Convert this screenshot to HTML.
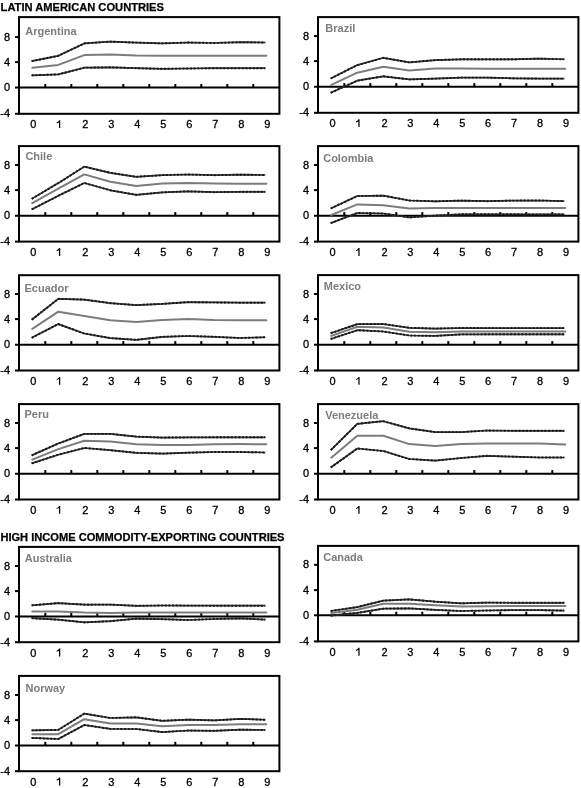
<!DOCTYPE html><html><head><meta charset="utf-8"><style>html,body{margin:0;padding:0;background:#fff;}svg{display:block}#w{width:581px;height:788px;will-change:transform}text{font-family:"Liberation Sans",sans-serif}</style></head><body>
<div id="w"><svg width="581" height="788" viewBox="0 0 581 788">
<rect width="581" height="788" fill="#fff"/>
<text x="0.6" y="10.8" font-weight="bold" font-size="11.15" fill="#000" stroke="#000" stroke-width="0.25">LATIN AMERICAN COUNTRIES</text>
<text x="0.4" y="540.5" font-weight="bold" font-size="11.1" fill="#000" stroke="#000" stroke-width="0.25">HIGH INCOME COMMODITY-EXPORTING COUNTRIES</text>
<g><rect x="19" y="17.1" width="260.40" height="96.70" fill="none" stroke="#000" stroke-width="2"/><line x1="15" y1="87.6" x2="279.4" y2="87.6" stroke="#000" stroke-width="2"/><line x1="15" y1="37.10" x2="19" y2="37.10" stroke="#000" stroke-width="2"/><line x1="15" y1="62.10" x2="19" y2="62.10" stroke="#000" stroke-width="2"/><line x1="15" y1="113.80" x2="19" y2="113.80" stroke="#000" stroke-width="2"/><line x1="45.30" y1="87.6" x2="45.30" y2="84.0" stroke="#000" stroke-width="2"/><line x1="71.30" y1="87.6" x2="71.30" y2="84.0" stroke="#000" stroke-width="2"/><line x1="97.30" y1="87.6" x2="97.30" y2="84.0" stroke="#000" stroke-width="2"/><line x1="123.30" y1="87.6" x2="123.30" y2="84.0" stroke="#000" stroke-width="2"/><line x1="149.30" y1="87.6" x2="149.30" y2="84.0" stroke="#000" stroke-width="2"/><line x1="175.30" y1="87.6" x2="175.30" y2="84.0" stroke="#000" stroke-width="2"/><line x1="201.30" y1="87.6" x2="201.30" y2="84.0" stroke="#000" stroke-width="2"/><line x1="227.30" y1="87.6" x2="227.30" y2="84.0" stroke="#000" stroke-width="2"/><line x1="253.30" y1="87.6" x2="253.30" y2="84.0" stroke="#000" stroke-width="2"/><text x="10.1" y="40.70" text-anchor="end" font-size="11" fill="#000" stroke="#000" stroke-width="0.3">8</text><text x="10.1" y="65.70" text-anchor="end" font-size="11" fill="#000" stroke="#000" stroke-width="0.3">4</text><text x="10.1" y="91.20" text-anchor="end" font-size="11" fill="#000" stroke="#000" stroke-width="0.3">0</text><text x="10.1" y="117.40" text-anchor="end" font-size="11" fill="#000" stroke="#000" stroke-width="0.3">-4</text><text x="33.20" y="128.10" text-anchor="middle" font-size="11" fill="#000" stroke="#000" stroke-width="0.3">0</text><path d="M59.00 120.20h1.25V128.10h-1.25V122.40L56.70 123.40V122.20C57.90 121.80 58.70 121.20 59.00 120.20Z" fill="#000"/><text x="85.20" y="128.10" text-anchor="middle" font-size="11" fill="#000" stroke="#000" stroke-width="0.3">2</text><text x="111.20" y="128.10" text-anchor="middle" font-size="11" fill="#000" stroke="#000" stroke-width="0.3">3</text><text x="137.20" y="128.10" text-anchor="middle" font-size="11" fill="#000" stroke="#000" stroke-width="0.3">4</text><text x="163.20" y="128.10" text-anchor="middle" font-size="11" fill="#000" stroke="#000" stroke-width="0.3">5</text><text x="189.20" y="128.10" text-anchor="middle" font-size="11" fill="#000" stroke="#000" stroke-width="0.3">6</text><text x="215.20" y="128.10" text-anchor="middle" font-size="11" fill="#000" stroke="#000" stroke-width="0.3">7</text><text x="241.20" y="128.10" text-anchor="middle" font-size="11" fill="#000" stroke="#000" stroke-width="0.3">8</text><text x="267.20" y="128.10" text-anchor="middle" font-size="11" fill="#000" stroke="#000" stroke-width="0.3">9</text><text x="25.2" y="34.5" font-weight="bold" font-size="11" fill="#7d7d7d">Argentina</text><polyline points="32.30,67.70 58.30,64.90 84.30,55.10 110.30,54.50 136.30,55.40 162.30,55.70 188.30,55.70 214.30,55.70 240.30,55.70 266.30,55.70" fill="none" stroke="#7c7c7c" stroke-width="2.0" stroke-linejoin="round" stroke-linecap="round"/><polyline points="31.61,61.14 58.30,55.80 84.30,43.40 110.30,41.60 136.30,42.60 162.30,43.40 188.30,42.50 214.30,43.00 240.30,42.20 265.30,42.49" fill="none" stroke="#333" stroke-width="1.7" stroke-linejoin="round"/><polyline points="31.61,61.14 58.30,55.80 84.30,43.40 110.30,41.60 136.30,42.60 162.30,43.40 188.30,42.50 214.30,43.00 240.30,42.20 265.30,42.49" fill="none" stroke="#1a1a1a" stroke-width="1.9" stroke-dasharray="2.2 1.5"/><polyline points="31.60,75.32 58.30,74.40 84.30,67.70 110.30,67.30 136.30,68.20 162.30,68.80 188.30,68.50 214.30,68.20 240.30,68.20 265.30,68.20" fill="none" stroke="#333" stroke-width="1.7" stroke-linejoin="round"/><polyline points="31.60,75.32 58.30,74.40 84.30,67.70 110.30,67.30 136.30,68.20 162.30,68.80 188.30,68.50 214.30,68.20 240.30,68.20 265.30,68.20" fill="none" stroke="#1a1a1a" stroke-width="1.9" stroke-dasharray="2.2 1.5"/></g>
<g><rect x="318" y="17.1" width="260.40" height="95.70" fill="none" stroke="#000" stroke-width="2"/><line x1="314" y1="86.7" x2="578.4" y2="86.7" stroke="#000" stroke-width="2"/><line x1="314" y1="36.10" x2="318" y2="36.10" stroke="#000" stroke-width="2"/><line x1="314" y1="61.10" x2="318" y2="61.10" stroke="#000" stroke-width="2"/><line x1="314" y1="112.80" x2="318" y2="112.80" stroke="#000" stroke-width="2"/><line x1="344.30" y1="86.7" x2="344.30" y2="83.10000000000001" stroke="#000" stroke-width="2"/><line x1="370.30" y1="86.7" x2="370.30" y2="83.10000000000001" stroke="#000" stroke-width="2"/><line x1="396.30" y1="86.7" x2="396.30" y2="83.10000000000001" stroke="#000" stroke-width="2"/><line x1="422.30" y1="86.7" x2="422.30" y2="83.10000000000001" stroke="#000" stroke-width="2"/><line x1="448.30" y1="86.7" x2="448.30" y2="83.10000000000001" stroke="#000" stroke-width="2"/><line x1="474.30" y1="86.7" x2="474.30" y2="83.10000000000001" stroke="#000" stroke-width="2"/><line x1="500.30" y1="86.7" x2="500.30" y2="83.10000000000001" stroke="#000" stroke-width="2"/><line x1="526.30" y1="86.7" x2="526.30" y2="83.10000000000001" stroke="#000" stroke-width="2"/><line x1="552.30" y1="86.7" x2="552.30" y2="83.10000000000001" stroke="#000" stroke-width="2"/><text x="309.1" y="39.70" text-anchor="end" font-size="11" fill="#000" stroke="#000" stroke-width="0.3">8</text><text x="309.1" y="64.70" text-anchor="end" font-size="11" fill="#000" stroke="#000" stroke-width="0.3">4</text><text x="309.1" y="90.30" text-anchor="end" font-size="11" fill="#000" stroke="#000" stroke-width="0.3">0</text><text x="309.1" y="116.40" text-anchor="end" font-size="11" fill="#000" stroke="#000" stroke-width="0.3">-4</text><text x="332.60" y="127.10" text-anchor="middle" font-size="11" fill="#000" stroke="#000" stroke-width="0.3">0</text><path d="M358.33 119.20h1.25V127.10h-1.25V121.40L356.03 122.40V121.20C357.23 120.80 358.03 120.20 358.33 119.20Z" fill="#000"/><text x="384.46" y="127.10" text-anchor="middle" font-size="11" fill="#000" stroke="#000" stroke-width="0.3">2</text><text x="410.39" y="127.10" text-anchor="middle" font-size="11" fill="#000" stroke="#000" stroke-width="0.3">3</text><text x="436.32" y="127.10" text-anchor="middle" font-size="11" fill="#000" stroke="#000" stroke-width="0.3">4</text><text x="462.25" y="127.10" text-anchor="middle" font-size="11" fill="#000" stroke="#000" stroke-width="0.3">5</text><text x="488.18" y="127.10" text-anchor="middle" font-size="11" fill="#000" stroke="#000" stroke-width="0.3">6</text><text x="514.11" y="127.10" text-anchor="middle" font-size="11" fill="#000" stroke="#000" stroke-width="0.3">7</text><text x="540.04" y="127.10" text-anchor="middle" font-size="11" fill="#000" stroke="#000" stroke-width="0.3">8</text><text x="565.97" y="127.10" text-anchor="middle" font-size="11" fill="#000" stroke="#000" stroke-width="0.3">9</text><text x="325.3" y="32.2" font-weight="bold" font-size="11" fill="#7d7d7d">Brazil</text><polyline points="331.30,84.80 357.30,72.70 383.30,66.70 409.30,70.60 435.30,68.60 461.30,68.60 487.30,68.70 513.30,68.70 539.30,68.70 565.30,68.70" fill="none" stroke="#7c7c7c" stroke-width="2.0" stroke-linejoin="round" stroke-linecap="round"/><polyline points="330.67,78.51 357.30,65.10 383.30,57.80 409.30,62.40 435.30,60.10 461.30,59.30 487.30,59.30 513.30,59.30 539.30,58.60 564.30,59.27" fill="none" stroke="#333" stroke-width="1.7" stroke-linejoin="round"/><polyline points="330.67,78.51 357.30,65.10 383.30,57.80 409.30,62.40 435.30,60.10 461.30,59.30 487.30,59.30 513.30,59.30 539.30,58.60 564.30,59.27" fill="none" stroke="#1a1a1a" stroke-width="1.9" stroke-dasharray="2.2 1.5"/><polyline points="330.66,92.79 357.30,80.70 383.30,76.30 409.30,79.40 435.30,78.60 461.30,77.60 487.30,77.60 513.30,78.30 539.30,78.60 564.30,78.60" fill="none" stroke="#333" stroke-width="1.7" stroke-linejoin="round"/><polyline points="330.66,92.79 357.30,80.70 383.30,76.30 409.30,79.40 435.30,78.60 461.30,77.60 487.30,77.60 513.30,78.30 539.30,78.60 564.30,78.60" fill="none" stroke="#1a1a1a" stroke-width="1.9" stroke-dasharray="2.2 1.5"/></g>
<g><rect x="19" y="146.1" width="260.40" height="95.50" fill="none" stroke="#000" stroke-width="2"/><line x1="15" y1="215.7" x2="279.4" y2="215.7" stroke="#000" stroke-width="2"/><line x1="15" y1="165.00" x2="19" y2="165.00" stroke="#000" stroke-width="2"/><line x1="15" y1="190.10" x2="19" y2="190.10" stroke="#000" stroke-width="2"/><line x1="15" y1="241.60" x2="19" y2="241.60" stroke="#000" stroke-width="2"/><line x1="45.30" y1="215.7" x2="45.30" y2="212.1" stroke="#000" stroke-width="2"/><line x1="71.30" y1="215.7" x2="71.30" y2="212.1" stroke="#000" stroke-width="2"/><line x1="97.30" y1="215.7" x2="97.30" y2="212.1" stroke="#000" stroke-width="2"/><line x1="123.30" y1="215.7" x2="123.30" y2="212.1" stroke="#000" stroke-width="2"/><line x1="149.30" y1="215.7" x2="149.30" y2="212.1" stroke="#000" stroke-width="2"/><line x1="175.30" y1="215.7" x2="175.30" y2="212.1" stroke="#000" stroke-width="2"/><line x1="201.30" y1="215.7" x2="201.30" y2="212.1" stroke="#000" stroke-width="2"/><line x1="227.30" y1="215.7" x2="227.30" y2="212.1" stroke="#000" stroke-width="2"/><line x1="253.30" y1="215.7" x2="253.30" y2="212.1" stroke="#000" stroke-width="2"/><text x="10.1" y="168.60" text-anchor="end" font-size="11" fill="#000" stroke="#000" stroke-width="0.3">8</text><text x="10.1" y="193.70" text-anchor="end" font-size="11" fill="#000" stroke="#000" stroke-width="0.3">4</text><text x="10.1" y="219.30" text-anchor="end" font-size="11" fill="#000" stroke="#000" stroke-width="0.3">0</text><text x="10.1" y="245.20" text-anchor="end" font-size="11" fill="#000" stroke="#000" stroke-width="0.3">-4</text><text x="33.20" y="255.90" text-anchor="middle" font-size="11" fill="#000" stroke="#000" stroke-width="0.3">0</text><path d="M59.00 248.00h1.25V255.90h-1.25V250.20L56.70 251.20V250.00C57.90 249.60 58.70 249.00 59.00 248.00Z" fill="#000"/><text x="85.20" y="255.90" text-anchor="middle" font-size="11" fill="#000" stroke="#000" stroke-width="0.3">2</text><text x="111.20" y="255.90" text-anchor="middle" font-size="11" fill="#000" stroke="#000" stroke-width="0.3">3</text><text x="137.20" y="255.90" text-anchor="middle" font-size="11" fill="#000" stroke="#000" stroke-width="0.3">4</text><text x="163.20" y="255.90" text-anchor="middle" font-size="11" fill="#000" stroke="#000" stroke-width="0.3">5</text><text x="189.20" y="255.90" text-anchor="middle" font-size="11" fill="#000" stroke="#000" stroke-width="0.3">6</text><text x="215.20" y="255.90" text-anchor="middle" font-size="11" fill="#000" stroke="#000" stroke-width="0.3">7</text><text x="241.20" y="255.90" text-anchor="middle" font-size="11" fill="#000" stroke="#000" stroke-width="0.3">8</text><text x="267.20" y="255.90" text-anchor="middle" font-size="11" fill="#000" stroke="#000" stroke-width="0.3">9</text><text x="25.4" y="160.2" font-weight="bold" font-size="11" fill="#7d7d7d">Chile</text><polyline points="32.30,203.20 58.30,188.60 84.30,174.40 110.30,181.80 136.30,186.10 162.30,183.50 188.30,182.90 214.30,183.50 240.30,183.70 266.30,183.70" fill="none" stroke="#7c7c7c" stroke-width="2.0" stroke-linejoin="round" stroke-linecap="round"/><polyline points="31.70,198.86 58.30,183.10 84.30,166.60 110.30,172.80 136.30,176.80 162.30,175.10 188.30,174.50 214.30,175.20 240.30,174.70 265.30,174.99" fill="none" stroke="#333" stroke-width="1.7" stroke-linejoin="round"/><polyline points="31.70,198.86 58.30,183.10 84.30,166.60 110.30,172.80 136.30,176.80 162.30,175.10 188.30,174.50 214.30,175.20 240.30,174.70 265.30,174.99" fill="none" stroke="#1a1a1a" stroke-width="1.9" stroke-dasharray="2.2 1.5"/><polyline points="31.68,209.42 58.30,195.80 84.30,183.00 110.30,190.30 136.30,194.80 162.30,192.40 188.30,191.30 214.30,192.20 240.30,191.80 265.30,191.80" fill="none" stroke="#333" stroke-width="1.7" stroke-linejoin="round"/><polyline points="31.68,209.42 58.30,195.80 84.30,183.00 110.30,190.30 136.30,194.80 162.30,192.40 188.30,191.30 214.30,192.20 240.30,191.80 265.30,191.80" fill="none" stroke="#1a1a1a" stroke-width="1.9" stroke-dasharray="2.2 1.5"/></g>
<g><rect x="318" y="146.1" width="260.40" height="95.50" fill="none" stroke="#000" stroke-width="2"/><line x1="314" y1="215.7" x2="578.4" y2="215.7" stroke="#000" stroke-width="2"/><line x1="314" y1="165.00" x2="318" y2="165.00" stroke="#000" stroke-width="2"/><line x1="314" y1="190.10" x2="318" y2="190.10" stroke="#000" stroke-width="2"/><line x1="314" y1="241.60" x2="318" y2="241.60" stroke="#000" stroke-width="2"/><line x1="344.30" y1="215.7" x2="344.30" y2="212.1" stroke="#000" stroke-width="2"/><line x1="370.30" y1="215.7" x2="370.30" y2="212.1" stroke="#000" stroke-width="2"/><line x1="396.30" y1="215.7" x2="396.30" y2="212.1" stroke="#000" stroke-width="2"/><line x1="422.30" y1="215.7" x2="422.30" y2="212.1" stroke="#000" stroke-width="2"/><line x1="448.30" y1="215.7" x2="448.30" y2="212.1" stroke="#000" stroke-width="2"/><line x1="474.30" y1="215.7" x2="474.30" y2="212.1" stroke="#000" stroke-width="2"/><line x1="500.30" y1="215.7" x2="500.30" y2="212.1" stroke="#000" stroke-width="2"/><line x1="526.30" y1="215.7" x2="526.30" y2="212.1" stroke="#000" stroke-width="2"/><line x1="552.30" y1="215.7" x2="552.30" y2="212.1" stroke="#000" stroke-width="2"/><text x="309.1" y="168.60" text-anchor="end" font-size="11" fill="#000" stroke="#000" stroke-width="0.3">8</text><text x="309.1" y="193.70" text-anchor="end" font-size="11" fill="#000" stroke="#000" stroke-width="0.3">4</text><text x="309.1" y="219.30" text-anchor="end" font-size="11" fill="#000" stroke="#000" stroke-width="0.3">0</text><text x="309.1" y="245.20" text-anchor="end" font-size="11" fill="#000" stroke="#000" stroke-width="0.3">-4</text><text x="332.60" y="255.90" text-anchor="middle" font-size="11" fill="#000" stroke="#000" stroke-width="0.3">0</text><path d="M358.33 248.00h1.25V255.90h-1.25V250.20L356.03 251.20V250.00C357.23 249.60 358.03 249.00 358.33 248.00Z" fill="#000"/><text x="384.46" y="255.90" text-anchor="middle" font-size="11" fill="#000" stroke="#000" stroke-width="0.3">2</text><text x="410.39" y="255.90" text-anchor="middle" font-size="11" fill="#000" stroke="#000" stroke-width="0.3">3</text><text x="436.32" y="255.90" text-anchor="middle" font-size="11" fill="#000" stroke="#000" stroke-width="0.3">4</text><text x="462.25" y="255.90" text-anchor="middle" font-size="11" fill="#000" stroke="#000" stroke-width="0.3">5</text><text x="488.18" y="255.90" text-anchor="middle" font-size="11" fill="#000" stroke="#000" stroke-width="0.3">6</text><text x="514.11" y="255.90" text-anchor="middle" font-size="11" fill="#000" stroke="#000" stroke-width="0.3">7</text><text x="540.04" y="255.90" text-anchor="middle" font-size="11" fill="#000" stroke="#000" stroke-width="0.3">8</text><text x="565.97" y="255.90" text-anchor="middle" font-size="11" fill="#000" stroke="#000" stroke-width="0.3">9</text><text x="323.2" y="161.5" font-weight="bold" font-size="11" fill="#7d7d7d">Colombia</text><polyline points="331.30,215.00 357.30,204.40 383.30,205.20 409.30,208.60 435.30,208.10 461.30,207.90 487.30,208.00 513.30,208.10 539.30,208.10 565.30,208.10" fill="none" stroke="#7c7c7c" stroke-width="2.0" stroke-linejoin="round" stroke-linecap="round"/><polyline points="330.67,208.50 357.30,196.00 383.30,195.70 409.30,200.50 435.30,201.30 461.30,200.60 487.30,201.20 513.30,200.60 539.30,200.50 564.30,201.17" fill="none" stroke="#333" stroke-width="1.7" stroke-linejoin="round"/><polyline points="330.67,208.50 357.30,196.00 383.30,195.70 409.30,200.50 435.30,201.30 461.30,200.60 487.30,201.20 513.30,200.60 539.30,200.50 564.30,201.17" fill="none" stroke="#1a1a1a" stroke-width="1.9" stroke-dasharray="2.2 1.5"/><polyline points="330.65,223.15 357.30,213.00 383.30,213.50 409.30,217.40 435.30,215.60 461.30,214.30 487.30,214.30 513.30,214.30 539.30,214.40 564.30,214.40" fill="none" stroke="#333" stroke-width="1.7" stroke-linejoin="round"/><polyline points="330.65,223.15 357.30,213.00 383.30,213.50 409.30,217.40 435.30,215.60 461.30,214.30 487.30,214.30 513.30,214.30 539.30,214.40 564.30,214.40" fill="none" stroke="#1a1a1a" stroke-width="1.9" stroke-dasharray="2.2 1.5"/></g>
<g><rect x="19" y="275.2" width="260.40" height="95.30" fill="none" stroke="#000" stroke-width="2"/><line x1="15" y1="344.7" x2="279.4" y2="344.7" stroke="#000" stroke-width="2"/><line x1="15" y1="294.00" x2="19" y2="294.00" stroke="#000" stroke-width="2"/><line x1="15" y1="319.10" x2="19" y2="319.10" stroke="#000" stroke-width="2"/><line x1="15" y1="370.50" x2="19" y2="370.50" stroke="#000" stroke-width="2"/><line x1="45.30" y1="344.7" x2="45.30" y2="341.09999999999997" stroke="#000" stroke-width="2"/><line x1="71.30" y1="344.7" x2="71.30" y2="341.09999999999997" stroke="#000" stroke-width="2"/><line x1="97.30" y1="344.7" x2="97.30" y2="341.09999999999997" stroke="#000" stroke-width="2"/><line x1="123.30" y1="344.7" x2="123.30" y2="341.09999999999997" stroke="#000" stroke-width="2"/><line x1="149.30" y1="344.7" x2="149.30" y2="341.09999999999997" stroke="#000" stroke-width="2"/><line x1="175.30" y1="344.7" x2="175.30" y2="341.09999999999997" stroke="#000" stroke-width="2"/><line x1="201.30" y1="344.7" x2="201.30" y2="341.09999999999997" stroke="#000" stroke-width="2"/><line x1="227.30" y1="344.7" x2="227.30" y2="341.09999999999997" stroke="#000" stroke-width="2"/><line x1="253.30" y1="344.7" x2="253.30" y2="341.09999999999997" stroke="#000" stroke-width="2"/><text x="10.1" y="297.60" text-anchor="end" font-size="11" fill="#000" stroke="#000" stroke-width="0.3">8</text><text x="10.1" y="322.70" text-anchor="end" font-size="11" fill="#000" stroke="#000" stroke-width="0.3">4</text><text x="10.1" y="348.30" text-anchor="end" font-size="11" fill="#000" stroke="#000" stroke-width="0.3">0</text><text x="10.1" y="374.10" text-anchor="end" font-size="11" fill="#000" stroke="#000" stroke-width="0.3">-4</text><text x="33.20" y="384.80" text-anchor="middle" font-size="11" fill="#000" stroke="#000" stroke-width="0.3">0</text><path d="M59.00 376.90h1.25V384.80h-1.25V379.10L56.70 380.10V378.90C57.90 378.50 58.70 377.90 59.00 376.90Z" fill="#000"/><text x="85.20" y="384.80" text-anchor="middle" font-size="11" fill="#000" stroke="#000" stroke-width="0.3">2</text><text x="111.20" y="384.80" text-anchor="middle" font-size="11" fill="#000" stroke="#000" stroke-width="0.3">3</text><text x="137.20" y="384.80" text-anchor="middle" font-size="11" fill="#000" stroke="#000" stroke-width="0.3">4</text><text x="163.20" y="384.80" text-anchor="middle" font-size="11" fill="#000" stroke="#000" stroke-width="0.3">5</text><text x="189.20" y="384.80" text-anchor="middle" font-size="11" fill="#000" stroke="#000" stroke-width="0.3">6</text><text x="215.20" y="384.80" text-anchor="middle" font-size="11" fill="#000" stroke="#000" stroke-width="0.3">7</text><text x="241.20" y="384.80" text-anchor="middle" font-size="11" fill="#000" stroke="#000" stroke-width="0.3">8</text><text x="267.20" y="384.80" text-anchor="middle" font-size="11" fill="#000" stroke="#000" stroke-width="0.3">9</text><text x="24.5" y="291.9" font-weight="bold" font-size="11" fill="#7d7d7d">Ecuador</text><polyline points="32.30,328.80 58.30,311.70 84.30,316.00 110.30,320.30 136.30,322.10 162.30,319.90 188.30,318.90 214.30,319.90 240.30,320.20 266.30,320.20" fill="none" stroke="#7c7c7c" stroke-width="2.0" stroke-linejoin="round" stroke-linecap="round"/><polyline points="31.75,319.73 58.30,298.80 84.30,299.60 110.30,303.20 136.30,305.10 162.30,303.90 188.30,302.10 214.30,302.40 240.30,302.70 265.30,302.70" fill="none" stroke="#333" stroke-width="1.7" stroke-linejoin="round"/><polyline points="31.75,319.73 58.30,298.80 84.30,299.60 110.30,303.20 136.30,305.10 162.30,303.90 188.30,302.10 214.30,302.40 240.30,302.70 265.30,302.70" fill="none" stroke="#1a1a1a" stroke-width="1.9" stroke-dasharray="2.2 1.5"/><polyline points="31.68,337.82 58.30,324.10 84.30,333.50 110.30,338.10 136.30,339.80 162.30,336.90 188.30,336.00 214.30,336.80 240.30,338.00 265.30,337.23" fill="none" stroke="#333" stroke-width="1.7" stroke-linejoin="round"/><polyline points="31.68,337.82 58.30,324.10 84.30,333.50 110.30,338.10 136.30,339.80 162.30,336.90 188.30,336.00 214.30,336.80 240.30,338.00 265.30,337.23" fill="none" stroke="#1a1a1a" stroke-width="1.9" stroke-dasharray="2.2 1.5"/></g>
<g><rect x="318" y="275.1" width="260.40" height="95.40" fill="none" stroke="#000" stroke-width="2"/><line x1="314" y1="344.7" x2="578.4" y2="344.7" stroke="#000" stroke-width="2"/><line x1="314" y1="294.00" x2="318" y2="294.00" stroke="#000" stroke-width="2"/><line x1="314" y1="319.10" x2="318" y2="319.10" stroke="#000" stroke-width="2"/><line x1="314" y1="370.50" x2="318" y2="370.50" stroke="#000" stroke-width="2"/><line x1="344.30" y1="344.7" x2="344.30" y2="341.09999999999997" stroke="#000" stroke-width="2"/><line x1="370.30" y1="344.7" x2="370.30" y2="341.09999999999997" stroke="#000" stroke-width="2"/><line x1="396.30" y1="344.7" x2="396.30" y2="341.09999999999997" stroke="#000" stroke-width="2"/><line x1="422.30" y1="344.7" x2="422.30" y2="341.09999999999997" stroke="#000" stroke-width="2"/><line x1="448.30" y1="344.7" x2="448.30" y2="341.09999999999997" stroke="#000" stroke-width="2"/><line x1="474.30" y1="344.7" x2="474.30" y2="341.09999999999997" stroke="#000" stroke-width="2"/><line x1="500.30" y1="344.7" x2="500.30" y2="341.09999999999997" stroke="#000" stroke-width="2"/><line x1="526.30" y1="344.7" x2="526.30" y2="341.09999999999997" stroke="#000" stroke-width="2"/><line x1="552.30" y1="344.7" x2="552.30" y2="341.09999999999997" stroke="#000" stroke-width="2"/><text x="309.1" y="297.60" text-anchor="end" font-size="11" fill="#000" stroke="#000" stroke-width="0.3">8</text><text x="309.1" y="322.70" text-anchor="end" font-size="11" fill="#000" stroke="#000" stroke-width="0.3">4</text><text x="309.1" y="348.30" text-anchor="end" font-size="11" fill="#000" stroke="#000" stroke-width="0.3">0</text><text x="309.1" y="374.10" text-anchor="end" font-size="11" fill="#000" stroke="#000" stroke-width="0.3">-4</text><text x="332.60" y="384.80" text-anchor="middle" font-size="11" fill="#000" stroke="#000" stroke-width="0.3">0</text><path d="M358.33 376.90h1.25V384.80h-1.25V379.10L356.03 380.10V378.90C357.23 378.50 358.03 377.90 358.33 376.90Z" fill="#000"/><text x="384.46" y="384.80" text-anchor="middle" font-size="11" fill="#000" stroke="#000" stroke-width="0.3">2</text><text x="410.39" y="384.80" text-anchor="middle" font-size="11" fill="#000" stroke="#000" stroke-width="0.3">3</text><text x="436.32" y="384.80" text-anchor="middle" font-size="11" fill="#000" stroke="#000" stroke-width="0.3">4</text><text x="462.25" y="384.80" text-anchor="middle" font-size="11" fill="#000" stroke="#000" stroke-width="0.3">5</text><text x="488.18" y="384.80" text-anchor="middle" font-size="11" fill="#000" stroke="#000" stroke-width="0.3">6</text><text x="514.11" y="384.80" text-anchor="middle" font-size="11" fill="#000" stroke="#000" stroke-width="0.3">7</text><text x="540.04" y="384.80" text-anchor="middle" font-size="11" fill="#000" stroke="#000" stroke-width="0.3">8</text><text x="565.97" y="384.80" text-anchor="middle" font-size="11" fill="#000" stroke="#000" stroke-width="0.3">9</text><text x="323.8" y="289.6" font-weight="bold" font-size="11" fill="#7d7d7d">Mexico</text><polyline points="331.30,335.90 357.30,326.70 383.30,327.40 409.30,331.80 435.30,332.30 461.30,331.40 487.30,331.50 513.30,331.50 539.30,331.50 565.30,331.50" fill="none" stroke="#7c7c7c" stroke-width="2.0" stroke-linejoin="round" stroke-linecap="round"/><polyline points="330.64,333.23 357.30,324.10 383.30,324.00 409.30,327.80 435.30,328.60 461.30,328.00 487.30,328.10 513.30,328.10 539.30,328.10 564.30,328.10" fill="none" stroke="#333" stroke-width="1.7" stroke-linejoin="round"/><polyline points="330.64,333.23 357.30,324.10 383.30,324.00 409.30,327.80 435.30,328.60 461.30,328.00 487.30,328.10 513.30,328.10 539.30,328.10 564.30,328.10" fill="none" stroke="#1a1a1a" stroke-width="1.9" stroke-dasharray="2.2 1.5"/><polyline points="330.64,339.02 357.30,330.20 383.30,331.50 409.30,335.50 435.30,335.90 461.30,334.40 487.30,334.30 513.30,334.30 539.30,334.30 564.30,334.30" fill="none" stroke="#333" stroke-width="1.7" stroke-linejoin="round"/><polyline points="330.64,339.02 357.30,330.20 383.30,331.50 409.30,335.50 435.30,335.90 461.30,334.40 487.30,334.30 513.30,334.30 539.30,334.30 564.30,334.30" fill="none" stroke="#1a1a1a" stroke-width="1.9" stroke-dasharray="2.2 1.5"/></g>
<g><rect x="19" y="404.1" width="260.40" height="95.40" fill="none" stroke="#000" stroke-width="2"/><line x1="15" y1="473.7" x2="279.4" y2="473.7" stroke="#000" stroke-width="2"/><line x1="15" y1="423.00" x2="19" y2="423.00" stroke="#000" stroke-width="2"/><line x1="15" y1="448.10" x2="19" y2="448.10" stroke="#000" stroke-width="2"/><line x1="15" y1="499.50" x2="19" y2="499.50" stroke="#000" stroke-width="2"/><line x1="45.30" y1="473.7" x2="45.30" y2="470.09999999999997" stroke="#000" stroke-width="2"/><line x1="71.30" y1="473.7" x2="71.30" y2="470.09999999999997" stroke="#000" stroke-width="2"/><line x1="97.30" y1="473.7" x2="97.30" y2="470.09999999999997" stroke="#000" stroke-width="2"/><line x1="123.30" y1="473.7" x2="123.30" y2="470.09999999999997" stroke="#000" stroke-width="2"/><line x1="149.30" y1="473.7" x2="149.30" y2="470.09999999999997" stroke="#000" stroke-width="2"/><line x1="175.30" y1="473.7" x2="175.30" y2="470.09999999999997" stroke="#000" stroke-width="2"/><line x1="201.30" y1="473.7" x2="201.30" y2="470.09999999999997" stroke="#000" stroke-width="2"/><line x1="227.30" y1="473.7" x2="227.30" y2="470.09999999999997" stroke="#000" stroke-width="2"/><line x1="253.30" y1="473.7" x2="253.30" y2="470.09999999999997" stroke="#000" stroke-width="2"/><text x="10.1" y="426.60" text-anchor="end" font-size="11" fill="#000" stroke="#000" stroke-width="0.3">8</text><text x="10.1" y="451.70" text-anchor="end" font-size="11" fill="#000" stroke="#000" stroke-width="0.3">4</text><text x="10.1" y="477.30" text-anchor="end" font-size="11" fill="#000" stroke="#000" stroke-width="0.3">0</text><text x="10.1" y="503.10" text-anchor="end" font-size="11" fill="#000" stroke="#000" stroke-width="0.3">-4</text><text x="33.20" y="513.80" text-anchor="middle" font-size="11" fill="#000" stroke="#000" stroke-width="0.3">0</text><path d="M59.00 505.90h1.25V513.80h-1.25V508.10L56.70 509.10V507.90C57.90 507.50 58.70 506.90 59.00 505.90Z" fill="#000"/><text x="85.20" y="513.80" text-anchor="middle" font-size="11" fill="#000" stroke="#000" stroke-width="0.3">2</text><text x="111.20" y="513.80" text-anchor="middle" font-size="11" fill="#000" stroke="#000" stroke-width="0.3">3</text><text x="137.20" y="513.80" text-anchor="middle" font-size="11" fill="#000" stroke="#000" stroke-width="0.3">4</text><text x="163.20" y="513.80" text-anchor="middle" font-size="11" fill="#000" stroke="#000" stroke-width="0.3">5</text><text x="189.20" y="513.80" text-anchor="middle" font-size="11" fill="#000" stroke="#000" stroke-width="0.3">6</text><text x="215.20" y="513.80" text-anchor="middle" font-size="11" fill="#000" stroke="#000" stroke-width="0.3">7</text><text x="241.20" y="513.80" text-anchor="middle" font-size="11" fill="#000" stroke="#000" stroke-width="0.3">8</text><text x="267.20" y="513.80" text-anchor="middle" font-size="11" fill="#000" stroke="#000" stroke-width="0.3">9</text><text x="24.5" y="418.2" font-weight="bold" font-size="11" fill="#7d7d7d">Peru</text><polyline points="32.30,459.60 58.30,449.10 84.30,440.80 110.30,441.60 136.30,444.30 162.30,445.00 188.30,445.00 214.30,444.30 240.30,444.10 266.30,444.30" fill="none" stroke="#7c7c7c" stroke-width="2.0" stroke-linejoin="round" stroke-linecap="round"/><polyline points="31.66,455.39 58.30,443.50 84.30,433.90 110.30,433.90 136.30,436.60 162.30,437.60 188.30,437.40 214.30,437.30 240.30,437.30 265.30,437.30" fill="none" stroke="#333" stroke-width="1.7" stroke-linejoin="round"/><polyline points="31.66,455.39 58.30,443.50 84.30,433.90 110.30,433.90 136.30,436.60 162.30,437.60 188.30,437.40 214.30,437.30 240.30,437.30 265.30,437.30" fill="none" stroke="#1a1a1a" stroke-width="1.9" stroke-dasharray="2.2 1.5"/><polyline points="31.63,463.42 58.30,454.70 84.30,448.00 110.30,450.20 136.30,452.80 162.30,453.60 188.30,452.70 214.30,452.00 240.30,452.00 265.30,452.48" fill="none" stroke="#333" stroke-width="1.7" stroke-linejoin="round"/><polyline points="31.63,463.42 58.30,454.70 84.30,448.00 110.30,450.20 136.30,452.80 162.30,453.60 188.30,452.70 214.30,452.00 240.30,452.00 265.30,452.48" fill="none" stroke="#1a1a1a" stroke-width="1.9" stroke-dasharray="2.2 1.5"/></g>
<g><rect x="318" y="404.1" width="260.40" height="95.40" fill="none" stroke="#000" stroke-width="2"/><line x1="314" y1="473.7" x2="578.4" y2="473.7" stroke="#000" stroke-width="2"/><line x1="314" y1="423.00" x2="318" y2="423.00" stroke="#000" stroke-width="2"/><line x1="314" y1="448.10" x2="318" y2="448.10" stroke="#000" stroke-width="2"/><line x1="314" y1="499.50" x2="318" y2="499.50" stroke="#000" stroke-width="2"/><line x1="344.30" y1="473.7" x2="344.30" y2="470.09999999999997" stroke="#000" stroke-width="2"/><line x1="370.30" y1="473.7" x2="370.30" y2="470.09999999999997" stroke="#000" stroke-width="2"/><line x1="396.30" y1="473.7" x2="396.30" y2="470.09999999999997" stroke="#000" stroke-width="2"/><line x1="422.30" y1="473.7" x2="422.30" y2="470.09999999999997" stroke="#000" stroke-width="2"/><line x1="448.30" y1="473.7" x2="448.30" y2="470.09999999999997" stroke="#000" stroke-width="2"/><line x1="474.30" y1="473.7" x2="474.30" y2="470.09999999999997" stroke="#000" stroke-width="2"/><line x1="500.30" y1="473.7" x2="500.30" y2="470.09999999999997" stroke="#000" stroke-width="2"/><line x1="526.30" y1="473.7" x2="526.30" y2="470.09999999999997" stroke="#000" stroke-width="2"/><line x1="552.30" y1="473.7" x2="552.30" y2="470.09999999999997" stroke="#000" stroke-width="2"/><text x="309.1" y="426.60" text-anchor="end" font-size="11" fill="#000" stroke="#000" stroke-width="0.3">8</text><text x="309.1" y="451.70" text-anchor="end" font-size="11" fill="#000" stroke="#000" stroke-width="0.3">4</text><text x="309.1" y="477.30" text-anchor="end" font-size="11" fill="#000" stroke="#000" stroke-width="0.3">0</text><text x="309.1" y="503.10" text-anchor="end" font-size="11" fill="#000" stroke="#000" stroke-width="0.3">-4</text><text x="332.60" y="513.80" text-anchor="middle" font-size="11" fill="#000" stroke="#000" stroke-width="0.3">0</text><path d="M358.33 505.90h1.25V513.80h-1.25V508.10L356.03 509.10V507.90C357.23 507.50 358.03 506.90 358.33 505.90Z" fill="#000"/><text x="384.46" y="513.80" text-anchor="middle" font-size="11" fill="#000" stroke="#000" stroke-width="0.3">2</text><text x="410.39" y="513.80" text-anchor="middle" font-size="11" fill="#000" stroke="#000" stroke-width="0.3">3</text><text x="436.32" y="513.80" text-anchor="middle" font-size="11" fill="#000" stroke="#000" stroke-width="0.3">4</text><text x="462.25" y="513.80" text-anchor="middle" font-size="11" fill="#000" stroke="#000" stroke-width="0.3">5</text><text x="488.18" y="513.80" text-anchor="middle" font-size="11" fill="#000" stroke="#000" stroke-width="0.3">6</text><text x="514.11" y="513.80" text-anchor="middle" font-size="11" fill="#000" stroke="#000" stroke-width="0.3">7</text><text x="540.04" y="513.80" text-anchor="middle" font-size="11" fill="#000" stroke="#000" stroke-width="0.3">8</text><text x="565.97" y="513.80" text-anchor="middle" font-size="11" fill="#000" stroke="#000" stroke-width="0.3">9</text><text x="325.2" y="418.5" font-weight="bold" font-size="11" fill="#7d7d7d">Venezuela</text><polyline points="331.30,457.70 357.30,435.70 383.30,435.70 409.30,444.10 435.30,446.00 461.30,444.00 487.30,443.50 513.30,443.50 539.30,443.50 565.30,444.50" fill="none" stroke="#7c7c7c" stroke-width="2.0" stroke-linejoin="round" stroke-linecap="round"/><polyline points="330.80,450.09 357.30,423.90 383.30,421.20 409.30,428.40 435.30,432.10 461.30,432.10 487.30,430.50 513.30,430.80 539.30,430.80 564.30,430.80" fill="none" stroke="#333" stroke-width="1.7" stroke-linejoin="round"/><polyline points="330.80,450.09 357.30,423.90 383.30,421.20 409.30,428.40 435.30,432.10 461.30,432.10 487.30,430.50 513.30,430.80 539.30,430.80 564.30,430.80" fill="none" stroke="#1a1a1a" stroke-width="1.9" stroke-dasharray="2.2 1.5"/><polyline points="330.73,467.51 357.30,448.50 383.30,451.00 409.30,459.00 435.30,460.60 461.30,458.00 487.30,455.80 513.30,456.70 539.30,457.50 564.30,457.50" fill="none" stroke="#333" stroke-width="1.7" stroke-linejoin="round"/><polyline points="330.73,467.51 357.30,448.50 383.30,451.00 409.30,459.00 435.30,460.60 461.30,458.00 487.30,455.80 513.30,456.70 539.30,457.50 564.30,457.50" fill="none" stroke="#1a1a1a" stroke-width="1.9" stroke-dasharray="2.2 1.5"/></g>
<g><rect x="19" y="546.9" width="260.40" height="95.30" fill="none" stroke="#000" stroke-width="2"/><line x1="15" y1="616.4" x2="279.4" y2="616.4" stroke="#000" stroke-width="2"/><line x1="15" y1="566.00" x2="19" y2="566.00" stroke="#000" stroke-width="2"/><line x1="15" y1="591.10" x2="19" y2="591.10" stroke="#000" stroke-width="2"/><line x1="15" y1="642.20" x2="19" y2="642.20" stroke="#000" stroke-width="2"/><line x1="45.30" y1="616.4" x2="45.30" y2="612.8" stroke="#000" stroke-width="2"/><line x1="71.30" y1="616.4" x2="71.30" y2="612.8" stroke="#000" stroke-width="2"/><line x1="97.30" y1="616.4" x2="97.30" y2="612.8" stroke="#000" stroke-width="2"/><line x1="123.30" y1="616.4" x2="123.30" y2="612.8" stroke="#000" stroke-width="2"/><line x1="149.30" y1="616.4" x2="149.30" y2="612.8" stroke="#000" stroke-width="2"/><line x1="175.30" y1="616.4" x2="175.30" y2="612.8" stroke="#000" stroke-width="2"/><line x1="201.30" y1="616.4" x2="201.30" y2="612.8" stroke="#000" stroke-width="2"/><line x1="227.30" y1="616.4" x2="227.30" y2="612.8" stroke="#000" stroke-width="2"/><line x1="253.30" y1="616.4" x2="253.30" y2="612.8" stroke="#000" stroke-width="2"/><text x="10.1" y="569.60" text-anchor="end" font-size="11" fill="#000" stroke="#000" stroke-width="0.3">8</text><text x="10.1" y="594.70" text-anchor="end" font-size="11" fill="#000" stroke="#000" stroke-width="0.3">4</text><text x="10.1" y="620.00" text-anchor="end" font-size="11" fill="#000" stroke="#000" stroke-width="0.3">0</text><text x="10.1" y="645.80" text-anchor="end" font-size="11" fill="#000" stroke="#000" stroke-width="0.3">-4</text><text x="33.20" y="656.50" text-anchor="middle" font-size="11" fill="#000" stroke="#000" stroke-width="0.3">0</text><path d="M59.00 648.60h1.25V656.50h-1.25V650.80L56.70 651.80V650.60C57.90 650.20 58.70 649.60 59.00 648.60Z" fill="#000"/><text x="85.20" y="656.50" text-anchor="middle" font-size="11" fill="#000" stroke="#000" stroke-width="0.3">2</text><text x="111.20" y="656.50" text-anchor="middle" font-size="11" fill="#000" stroke="#000" stroke-width="0.3">3</text><text x="137.20" y="656.50" text-anchor="middle" font-size="11" fill="#000" stroke="#000" stroke-width="0.3">4</text><text x="163.20" y="656.50" text-anchor="middle" font-size="11" fill="#000" stroke="#000" stroke-width="0.3">5</text><text x="189.20" y="656.50" text-anchor="middle" font-size="11" fill="#000" stroke="#000" stroke-width="0.3">6</text><text x="215.20" y="656.50" text-anchor="middle" font-size="11" fill="#000" stroke="#000" stroke-width="0.3">7</text><text x="241.20" y="656.50" text-anchor="middle" font-size="11" fill="#000" stroke="#000" stroke-width="0.3">8</text><text x="267.20" y="656.50" text-anchor="middle" font-size="11" fill="#000" stroke="#000" stroke-width="0.3">9</text><text x="24.8" y="562.2" font-weight="bold" font-size="11" fill="#7d7d7d">Australia</text><polyline points="32.30,611.60 58.30,611.60 84.30,612.60 110.30,613.00 136.30,612.50 162.30,612.40 188.30,612.50 214.30,612.60 240.30,612.60 266.30,612.60" fill="none" stroke="#7c7c7c" stroke-width="2.0" stroke-linejoin="round" stroke-linecap="round"/><polyline points="31.60,605.36 58.30,603.10 84.30,604.70 110.30,604.60 136.30,605.80 162.30,605.50 188.30,605.60 214.30,605.70 240.30,605.70 265.30,605.70" fill="none" stroke="#333" stroke-width="1.7" stroke-linejoin="round"/><polyline points="31.60,605.36 58.30,603.10 84.30,604.70 110.30,604.60 136.30,605.80 162.30,605.50 188.30,605.60 214.30,605.70 240.30,605.70 265.30,605.70" fill="none" stroke="#1a1a1a" stroke-width="1.9" stroke-dasharray="2.2 1.5"/><polyline points="31.60,618.16 58.30,619.70 84.30,622.30 110.30,621.20 136.30,618.60 162.30,619.20 188.30,620.00 214.30,619.00 240.30,618.40 265.30,619.55" fill="none" stroke="#333" stroke-width="1.7" stroke-linejoin="round"/><polyline points="31.60,618.16 58.30,619.70 84.30,622.30 110.30,621.20 136.30,618.60 162.30,619.20 188.30,620.00 214.30,619.00 240.30,618.40 265.30,619.55" fill="none" stroke="#1a1a1a" stroke-width="1.9" stroke-dasharray="2.2 1.5"/></g>
<g><rect x="318" y="545.9" width="260.40" height="95.50" fill="none" stroke="#000" stroke-width="2"/><line x1="314" y1="615.3" x2="578.4" y2="615.3" stroke="#000" stroke-width="2"/><line x1="314" y1="564.80" x2="318" y2="564.80" stroke="#000" stroke-width="2"/><line x1="314" y1="590.10" x2="318" y2="590.10" stroke="#000" stroke-width="2"/><line x1="314" y1="641.40" x2="318" y2="641.40" stroke="#000" stroke-width="2"/><line x1="344.30" y1="615.3" x2="344.30" y2="611.6999999999999" stroke="#000" stroke-width="2"/><line x1="370.30" y1="615.3" x2="370.30" y2="611.6999999999999" stroke="#000" stroke-width="2"/><line x1="396.30" y1="615.3" x2="396.30" y2="611.6999999999999" stroke="#000" stroke-width="2"/><line x1="422.30" y1="615.3" x2="422.30" y2="611.6999999999999" stroke="#000" stroke-width="2"/><line x1="448.30" y1="615.3" x2="448.30" y2="611.6999999999999" stroke="#000" stroke-width="2"/><line x1="474.30" y1="615.3" x2="474.30" y2="611.6999999999999" stroke="#000" stroke-width="2"/><line x1="500.30" y1="615.3" x2="500.30" y2="611.6999999999999" stroke="#000" stroke-width="2"/><line x1="526.30" y1="615.3" x2="526.30" y2="611.6999999999999" stroke="#000" stroke-width="2"/><line x1="552.30" y1="615.3" x2="552.30" y2="611.6999999999999" stroke="#000" stroke-width="2"/><text x="309.1" y="568.40" text-anchor="end" font-size="11" fill="#000" stroke="#000" stroke-width="0.3">8</text><text x="309.1" y="593.70" text-anchor="end" font-size="11" fill="#000" stroke="#000" stroke-width="0.3">4</text><text x="309.1" y="618.90" text-anchor="end" font-size="11" fill="#000" stroke="#000" stroke-width="0.3">0</text><text x="309.1" y="645.00" text-anchor="end" font-size="11" fill="#000" stroke="#000" stroke-width="0.3">-4</text><text x="332.60" y="655.70" text-anchor="middle" font-size="11" fill="#000" stroke="#000" stroke-width="0.3">0</text><path d="M358.33 647.80h1.25V655.70h-1.25V650.00L356.03 651.00V649.80C357.23 649.40 358.03 648.80 358.33 647.80Z" fill="#000"/><text x="384.46" y="655.70" text-anchor="middle" font-size="11" fill="#000" stroke="#000" stroke-width="0.3">2</text><text x="410.39" y="655.70" text-anchor="middle" font-size="11" fill="#000" stroke="#000" stroke-width="0.3">3</text><text x="436.32" y="655.70" text-anchor="middle" font-size="11" fill="#000" stroke="#000" stroke-width="0.3">4</text><text x="462.25" y="655.70" text-anchor="middle" font-size="11" fill="#000" stroke="#000" stroke-width="0.3">5</text><text x="488.18" y="655.70" text-anchor="middle" font-size="11" fill="#000" stroke="#000" stroke-width="0.3">6</text><text x="514.11" y="655.70" text-anchor="middle" font-size="11" fill="#000" stroke="#000" stroke-width="0.3">7</text><text x="540.04" y="655.70" text-anchor="middle" font-size="11" fill="#000" stroke="#000" stroke-width="0.3">8</text><text x="565.97" y="655.70" text-anchor="middle" font-size="11" fill="#000" stroke="#000" stroke-width="0.3">9</text><text x="323.2" y="560.8" font-weight="bold" font-size="11" fill="#7d7d7d">Canada</text><polyline points="331.30,613.00 357.30,609.80 383.30,603.80 409.30,603.70 435.30,605.30 461.30,606.40 487.30,606.20 513.30,605.90 539.30,605.90 565.30,605.90" fill="none" stroke="#7c7c7c" stroke-width="2.0" stroke-linejoin="round" stroke-linecap="round"/><polyline points="330.61,611.00 357.30,607.10 383.30,600.60 409.30,599.40 435.30,601.70 461.30,603.30 487.30,602.60 513.30,602.80 539.30,602.80 564.30,602.80" fill="none" stroke="#333" stroke-width="1.7" stroke-linejoin="round"/><polyline points="330.61,611.00 357.30,607.10 383.30,600.60 409.30,599.40 435.30,601.70 461.30,603.30 487.30,602.60 513.30,602.80 539.30,602.80 564.30,602.80" fill="none" stroke="#1a1a1a" stroke-width="1.9" stroke-dasharray="2.2 1.5"/><polyline points="330.60,615.67 357.30,612.90 383.30,608.70 409.30,608.40 435.30,609.90 461.30,611.00 487.30,610.50 513.30,610.10 539.30,610.10 564.30,610.58" fill="none" stroke="#333" stroke-width="1.7" stroke-linejoin="round"/><polyline points="330.60,615.67 357.30,612.90 383.30,608.70 409.30,608.40 435.30,609.90 461.30,611.00 487.30,610.50 513.30,610.10 539.30,610.10 564.30,610.58" fill="none" stroke="#1a1a1a" stroke-width="1.9" stroke-dasharray="2.2 1.5"/></g>
<g><rect x="19" y="675.9" width="260.40" height="95.30" fill="none" stroke="#000" stroke-width="2"/><line x1="15" y1="745.4" x2="279.4" y2="745.4" stroke="#000" stroke-width="2"/><line x1="15" y1="695.00" x2="19" y2="695.00" stroke="#000" stroke-width="2"/><line x1="15" y1="720.10" x2="19" y2="720.10" stroke="#000" stroke-width="2"/><line x1="15" y1="771.20" x2="19" y2="771.20" stroke="#000" stroke-width="2"/><line x1="45.30" y1="745.4" x2="45.30" y2="741.8" stroke="#000" stroke-width="2"/><line x1="71.30" y1="745.4" x2="71.30" y2="741.8" stroke="#000" stroke-width="2"/><line x1="97.30" y1="745.4" x2="97.30" y2="741.8" stroke="#000" stroke-width="2"/><line x1="123.30" y1="745.4" x2="123.30" y2="741.8" stroke="#000" stroke-width="2"/><line x1="149.30" y1="745.4" x2="149.30" y2="741.8" stroke="#000" stroke-width="2"/><line x1="175.30" y1="745.4" x2="175.30" y2="741.8" stroke="#000" stroke-width="2"/><line x1="201.30" y1="745.4" x2="201.30" y2="741.8" stroke="#000" stroke-width="2"/><line x1="227.30" y1="745.4" x2="227.30" y2="741.8" stroke="#000" stroke-width="2"/><line x1="253.30" y1="745.4" x2="253.30" y2="741.8" stroke="#000" stroke-width="2"/><text x="10.1" y="698.60" text-anchor="end" font-size="11" fill="#000" stroke="#000" stroke-width="0.3">8</text><text x="10.1" y="723.70" text-anchor="end" font-size="11" fill="#000" stroke="#000" stroke-width="0.3">4</text><text x="10.1" y="749.00" text-anchor="end" font-size="11" fill="#000" stroke="#000" stroke-width="0.3">0</text><text x="10.1" y="774.80" text-anchor="end" font-size="11" fill="#000" stroke="#000" stroke-width="0.3">-4</text><text x="33.20" y="785.50" text-anchor="middle" font-size="11" fill="#000" stroke="#000" stroke-width="0.3">0</text><path d="M59.00 777.60h1.25V785.50h-1.25V779.80L56.70 780.80V779.60C57.90 779.20 58.70 778.60 59.00 777.60Z" fill="#000"/><text x="85.20" y="785.50" text-anchor="middle" font-size="11" fill="#000" stroke="#000" stroke-width="0.3">2</text><text x="111.20" y="785.50" text-anchor="middle" font-size="11" fill="#000" stroke="#000" stroke-width="0.3">3</text><text x="137.20" y="785.50" text-anchor="middle" font-size="11" fill="#000" stroke="#000" stroke-width="0.3">4</text><text x="163.20" y="785.50" text-anchor="middle" font-size="11" fill="#000" stroke="#000" stroke-width="0.3">5</text><text x="189.20" y="785.50" text-anchor="middle" font-size="11" fill="#000" stroke="#000" stroke-width="0.3">6</text><text x="215.20" y="785.50" text-anchor="middle" font-size="11" fill="#000" stroke="#000" stroke-width="0.3">7</text><text x="241.20" y="785.50" text-anchor="middle" font-size="11" fill="#000" stroke="#000" stroke-width="0.3">8</text><text x="267.20" y="785.50" text-anchor="middle" font-size="11" fill="#000" stroke="#000" stroke-width="0.3">9</text><text x="25.5" y="691.6" font-weight="bold" font-size="11" fill="#7d7d7d">Norway</text><polyline points="32.30,734.30 58.30,734.20 84.30,719.20 110.30,723.40 136.30,723.40 162.30,726.20 188.30,725.00 214.30,725.00 240.30,724.30 266.30,724.30" fill="none" stroke="#7c7c7c" stroke-width="2.0" stroke-linejoin="round" stroke-linecap="round"/><polyline points="31.60,730.41 58.30,729.90 84.30,713.60 110.30,718.00 136.30,717.30 162.30,720.80 188.30,719.70 214.30,720.40 240.30,718.90 265.30,719.77" fill="none" stroke="#333" stroke-width="1.7" stroke-linejoin="round"/><polyline points="31.60,730.41 58.30,729.90 84.30,713.60 110.30,718.00 136.30,717.30 162.30,720.80 188.30,719.70 214.30,720.40 240.30,718.90 265.30,719.77" fill="none" stroke="#1a1a1a" stroke-width="1.9" stroke-dasharray="2.2 1.5"/><polyline points="31.60,737.87 58.30,739.00 84.30,725.00 110.30,728.90 136.30,729.00 162.30,732.10 188.30,730.50 214.30,730.80 240.30,729.70 265.30,729.99" fill="none" stroke="#333" stroke-width="1.7" stroke-linejoin="round"/><polyline points="31.60,737.87 58.30,739.00 84.30,725.00 110.30,728.90 136.30,729.00 162.30,732.10 188.30,730.50 214.30,730.80 240.30,729.70 265.30,729.99" fill="none" stroke="#1a1a1a" stroke-width="1.9" stroke-dasharray="2.2 1.5"/></g>
</svg></div></body></html>
